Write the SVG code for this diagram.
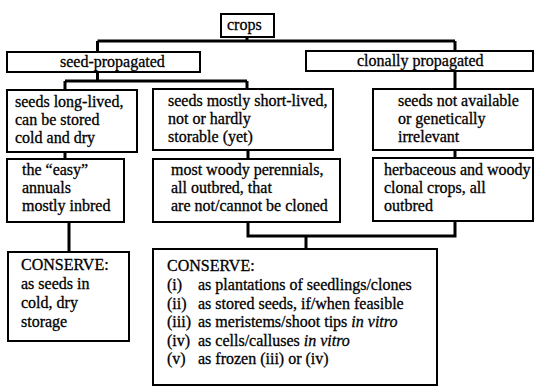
<svg xmlns="http://www.w3.org/2000/svg" width="537" height="387" viewBox="0 0 537 387">
<style>
.box{fill:#fff;stroke:#000;stroke-width:2}
.con{fill:none;stroke:#000;stroke-width:3}
text{font-family:"Liberation Serif","Times New Roman",serif;font-size:16px;fill:#000;stroke:#000;stroke-width:0.3}
.it{font-style:italic}
</style>
<rect width="537" height="387" fill="#fff"/>
<g id="connectors">
<path class="con" d="M247,37V41M97.5,41H455M97.5,41V52M455,41V51"/>
<path class="con" d="M97.5,72V81M65,81H247M65,81V90M247,81V89"/>
<path class="con" d="M455,71V89"/>
<path class="con" d="M65,152V159M248,150V159M455,150V158"/>
<path class="con" d="M69,222V252"/>
<path class="con" d="M248,222V236H455V221M306,236V249"/>
</g>
<g id="crops"><rect class="box" x="221" y="14" width="53" height="23"/><text x="227" y="30">crops</text></g>
<g id="seed-propagated"><rect class="box" x="7" y="52" width="193" height="20"/><text x="60" y="67">seed-propagated</text></g>
<g id="clonally-propagated"><rect class="box" x="306" y="51" width="227" height="20"/><text x="357" y="66">clonally propagated</text></g>
<g id="long-lived"><rect class="box" x="7" y="90" width="130" height="62"/>
<text x="15" y="107">seeds long-lived,</text><text x="15" y="125">can be stored</text><text x="15" y="143">cold and dry</text></g>
<g id="short-lived"><rect class="box" x="153" y="89" width="180" height="61"/>
<text x="168" y="106">seeds mostly short-lived,</text><text x="168" y="124">not or hardly</text><text x="168" y="142">storable (yet)</text></g>
<g id="not-available"><rect class="box" x="373" y="89" width="160" height="61"/>
<text x="398" y="106">seeds not available</text><text x="398" y="124">or genetically</text><text x="398" y="142">irrelevant</text></g>
<g id="easy-annuals"><rect class="box" x="7" y="159" width="117" height="63"/>
<text x="22" y="175">the “easy”</text><text x="22" y="193">annuals</text><text x="22" y="211">mostly inbred</text></g>
<g id="woody-perennials"><rect class="box" x="153" y="159" width="187" height="63"/>
<text x="171" y="175">most woody perennials,</text><text x="171" y="193">all outbred, that</text><text x="171" y="211">are not/cannot be cloned</text></g>
<g id="herbaceous"><rect class="box" x="373" y="158" width="160" height="63"/>
<text x="384" y="175">herbaceous and woody</text><text x="384" y="193">clonal crops, all</text><text x="384" y="211">outbred</text></g>
<g id="conserve-seeds"><rect class="box" x="8" y="252" width="121" height="89"/>
<text x="21" y="270">CONSERVE:</text><text x="21" y="289">as seeds in</text><text x="21" y="308">cold, dry</text><text x="21" y="327">storage</text></g>
<g id="conserve-clones"><rect class="box" x="153" y="249" width="284" height="136"/>
<text x="167" y="271">CONSERVE:</text>
<text x="167" y="290">(i)</text><text x="198" y="290">as plantations of seedlings/clones</text>
<text x="167" y="308.5">(ii)</text><text x="198" y="308.5">as stored seeds, if/when feasible</text>
<text x="167" y="327">(iii)</text><text x="198" y="327">as meristems/shoot tips <tspan class="it">in vitro</tspan></text>
<text x="167" y="345.5">(iv)</text><text x="198" y="345.5">as cells/calluses <tspan class="it">in vitro</tspan></text>
<text x="167" y="364">(v)</text><text x="198" y="364">as frozen (iii) or (iv)</text>
</g>
</svg>
